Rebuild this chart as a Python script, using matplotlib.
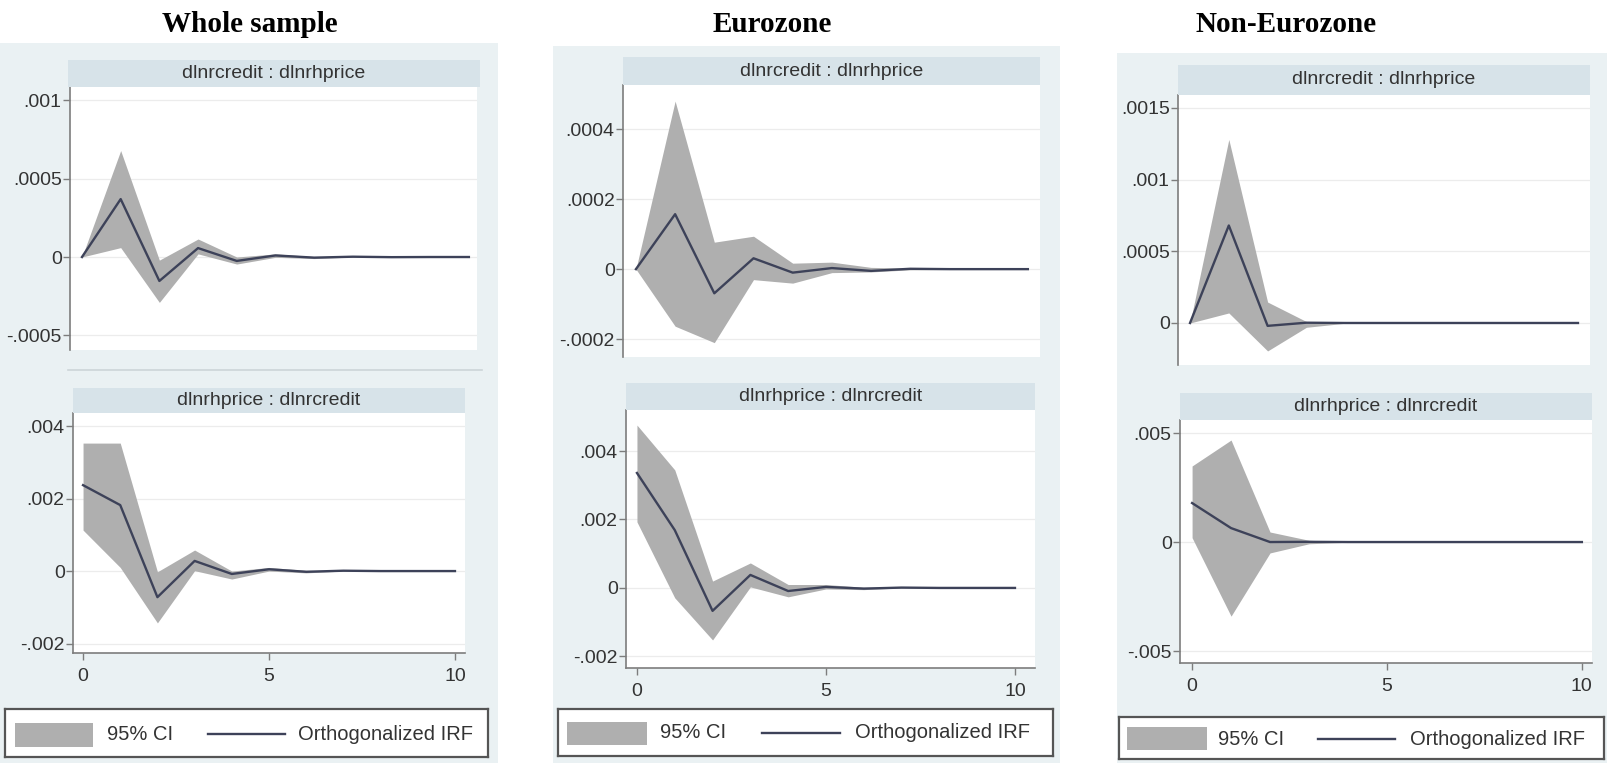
import matplotlib
matplotlib.use("Agg")
import matplotlib.pyplot as plt
from matplotlib.patches import Rectangle
from matplotlib.lines import Line2D

W, H = 1607, 763

# impulse response steps
steps = list(range(11))

# Whole sample
whole_ch_irf = [0, 0.00037, -0.000153, 0.000057, -0.000025, 0.00001, -0.000004, 0.000002, -0.000001, 0, 0]
whole_ch_hi = [0, 0.00068, -0.00002, 0.000115, 0.0, 0.00002, 0.000003, 0.000004, 0.000001, 0.000001, 0]
whole_ch_lo = [0, 0.00006, -0.00029, 0.00002, -0.000045, -0.000002, -0.00001, 0, -0.000003, -0.000001, -0.000001]
whole_hc_irf = [0.00237, 0.00182, -0.00072, 0.00028, -0.00008, 0.00005, -0.00002, 0.00001, 0, 0, 0]
whole_hc_hi = [0.00353, 0.00353, -0.00002, 0.00058, 0.0, 0.0001, 0.00002, 0.00002, 0.00001, 0, 0]
whole_hc_lo = [0.00113, 0.0001, -0.00143, 0.00001, -0.00022, 0.0, -0.00005, 0, -0.00001, 0, 0]

# Eurozone
euro_ch_irf = [0, 0.000157, -0.000069, 0.000031, -0.00001, 0.000003, -0.000005, 0.000001, 0, 0, 0]
euro_ch_hi = [0, 0.00048, 0.000077, 0.000094, 0.000017, 0.00002, 0.000005, 0.000003, 0.000001, 0, 0]
euro_ch_lo = [0, -0.000163, -0.00021, -0.00003, -0.00004, -0.00001, -0.000008, -0.000002, -0.000001, 0, 0]
euro_hc_irf = [0.00336, 0.00169, -0.00067, 0.00038, -0.00009, 0.00003, -0.00002, 0.00001, 0, 0, 0]
euro_hc_hi = [0.00476, 0.00345, 0.0002, 0.00073, 0.0001, 0.0001, 0.00002, 0.00002, 0, 0, 0]
euro_hc_lo = [0.00193, -0.00029, -0.00152, 0.00003, -0.00026, -0.00003, -0.00005, 0, 0, 0, 0]

# Non-Eurozone
non_ch_irf = [0, 0.00068, -0.00002, 0.000002, 0, 0, 0, 0, 0, 0, 0]
non_ch_hi = [0, 0.00128, 0.000146, 0.00001, 0.000001, 0, 0, 0, 0, 0, 0]
non_ch_lo = [0, 0.00007, -0.000195, -0.00003, -0.000002, 0, 0, 0, 0, 0, 0]
non_hc_irf = [0.00179, 0.00064, 0.0, 0.00001, 0, 0, 0, 0, 0, 0, 0]
non_hc_hi = [0.00349, 0.00468, 0.00046, 0.00008, 0.00001, 0, 0, 0, 0, 0, 0]
non_hc_lo = [0.0002, -0.0034, -0.0005, -0.00008, -0.00001, 0, 0, 0, 0, 0, 0]

group_titles = ["Whole sample", "Eurozone", "Non-Eurozone"]
strip_labels = ["dlnrcredit : dlnrhprice", "dlnrhprice : dlnrcredit"]
legend_labels = ["95% CI", "Orthogonalized IRF"]

BG = "#eaf1f3"
STRIP = "#d7e3e9"
CI = "#afafaf"
LINE = "#3d4259"
GRID = "#ececec"
AX = "#7d7d7d"
TXT = "#333333"

plt.rcParams["font.family"] = ["Liberation Sans", "DejaVu Sans"]

fig = plt.figure(figsize=(W / 100, H / 100), dpi=100)
fig.patch.set_facecolor("white")


def frac(x0, y0, x1, y1):
    return [x0 / W, 1 - y1 / H, (x1 - x0) / W, (y1 - y0) / H]


def bg(x0, y0, x1, y1, color):
    fig.add_artist(Rectangle((x0 / W, 1 - y1 / H), (x1 - x0) / W, (y1 - y0) / H,
                             transform=fig.transFigure, facecolor=color,
                             edgecolor="none", zorder=-5))


def panel(rect, strip, label, irf, lo, hi, xlim, ylim, yticks, ylabels, bottom):
    ax = fig.add_axes(frac(*rect))
    ax.set_facecolor("white")
    for v in yticks:
        ax.axhline(v, color=GRID, lw=0.9, zorder=0)
    ax.fill_between(steps, lo, hi, color=CI, lw=0, zorder=2)
    ax.plot(steps, irf, color=LINE, lw=1.7, zorder=3)
    ax.set_xlim(*xlim)
    ax.set_ylim(*ylim)
    ax.set_yticks(yticks, ylabels)
    for s in ["top", "right"]:
        ax.spines[s].set_visible(False)
    ax.spines["left"].set_color(AX)
    ax.spines["left"].set_linewidth(1.2)
    ax.tick_params(axis="y", direction="out", length=5, width=1, color=AX,
                   labelsize=14, labelcolor=TXT, pad=1)
    if bottom:
        ax.spines["bottom"].set_color(AX)
        ax.spines["bottom"].set_linewidth(1.2)
        ax.set_xticks([0, 5, 10], ["0", "5", "10"])
        ax.tick_params(axis="x", direction="out", length=5, width=1, color=AX,
                       labelsize=14, labelcolor=TXT, pad=6)
    else:
        ax.spines["bottom"].set_visible(False)
        ax.set_xticks([])

    sx = fig.add_axes(frac(*strip))
    sx.set_facecolor(STRIP)
    sx.set_xticks([])
    sx.set_yticks([])
    for s in sx.spines.values():
        s.set_visible(False)
    sx.text(0.5, 0.5, label, ha="center", va="center", fontsize=14, color=TXT)
    return ax


def legend(box, patch, line, t1, t2, yc):
    x0, y0, x1, y1 = box
    lx = fig.add_axes(frac(*box))
    lx.set_xlim(x0, x1)
    lx.set_ylim(y1, y0)
    lx.set_facecolor("white")
    lx.set_xticks([])
    lx.set_yticks([])
    for s in lx.spines.values():
        s.set_color("#555555")
        s.set_linewidth(1.6)
    lx.add_patch(Rectangle((patch[0], patch[1]), patch[2] - patch[0], patch[3] - patch[1],
                           facecolor=CI, edgecolor="none"))
    lx.add_line(Line2D([line[0], line[1]], [yc, yc], color=LINE, lw=1.7))
    lx.text(t1, yc, legend_labels[0], ha="left", va="center", fontsize=14.5, color=TXT)
    lx.text(t2, yc, legend_labels[1], ha="left", va="center", fontsize=14.5, color=TXT)


# backgrounds of the three graph regions
bg(0, 43, 498, 763, BG)
bg(553, 46, 1060, 763, BG)
bg(1117, 53, 1607, 763, BG)
fig.add_artist(Line2D([68 / W, 482 / W], [1 - 370 / H, 1 - 370 / H],
                      transform=fig.transFigure, color="#cdd5d8", lw=1.2))

# titles
for t, xc in zip(group_titles, [250, 772, 1286]):
    fig.text(xc / W, 1 - 24 / H, t, ha="center", va="center", fontsize=21,
             fontweight="bold", family=["Liberation Serif", "DejaVu Serif"], color="black")

# Whole sample
panel((70, 87, 477, 350), (68, 60, 480, 87), strip_labels[0],
      whole_ch_irf, whole_ch_lo, whole_ch_hi, (-0.31, 10.21), (-0.000594, 0.001086),
      [-0.0005, 0, 0.0005, 0.001], ["-.0005", "0", ".0005", ".001"], False)
panel((73, 413, 465, 653), (73, 388, 465, 413), strip_labels[1],
      whole_hc_irf, whole_hc_lo, whole_hc_hi, (-0.27, 10.27), (-0.00226, 0.00436),
      [-0.002, 0, 0.002, 0.004], ["-.002", "0", ".002", ".004"], True)
legend((5, 709, 488, 757), (15, 723, 93, 747), (208, 285), 107, 298, 734)

# Eurozone
panel((623, 85, 1040, 357), (623, 57, 1040, 85), strip_labels[0],
      euro_ch_irf, euro_ch_lo, euro_ch_hi, (-0.33, 10.31), (-0.000251, 0.000526),
      [-0.0002, 0, 0.0002, 0.0004], ["-.0002", "0", ".0002", ".0004"], False)
panel((626, 410, 1035, 668), (626, 383, 1035, 410), strip_labels[1],
      euro_hc_irf, euro_hc_lo, euro_hc_hi, (-0.29, 10.53), (-0.00234, 0.0052),
      [-0.002, 0, 0.002, 0.004], ["-.002", "0", ".002", ".004"], True)
legend((558, 709, 1053, 756), (567, 722, 647, 745), (762, 840), 660, 855, 733)

# Non-Eurozone
panel((1178, 95, 1590, 365), (1178, 65, 1590, 95), strip_labels[0],
      non_ch_irf, non_ch_lo, non_ch_hi, (-0.31, 10.31), (-0.000293, 0.00159),
      [0, 0.0005, 0.001, 0.0015], ["0", ".0005", ".001", ".0015"], False)
panel((1180, 420, 1592, 663), (1180, 393, 1592, 420), strip_labels[1],
      non_hc_irf, non_hc_lo, non_hc_hi, (-0.31, 10.26), (-0.00555, 0.0056),
      [-0.005, 0, 0.005], ["-.005", "0", ".005"], True)
legend((1119, 717, 1604, 759), (1127, 727, 1207, 750), (1318, 1395), 1218, 1410, 739)

fig.savefig("out.png", dpi=100)
